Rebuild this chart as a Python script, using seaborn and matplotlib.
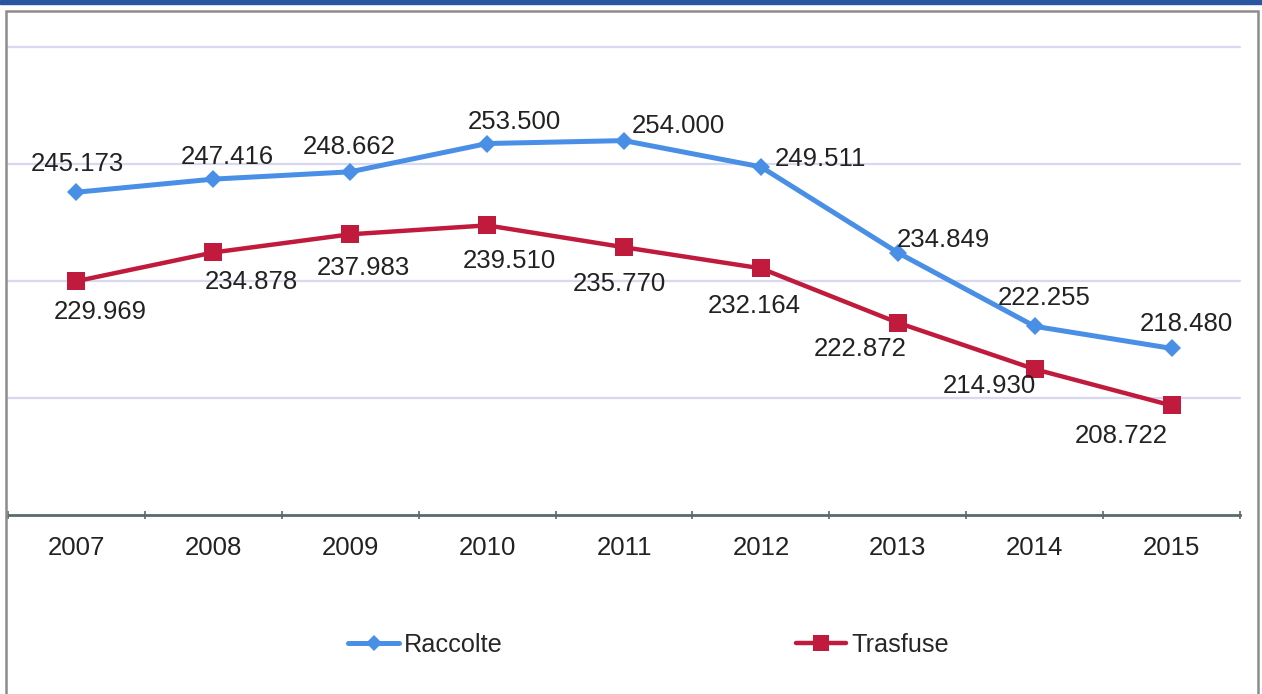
import matplotlib
matplotlib.use("Agg")
import matplotlib.pyplot as plt
from matplotlib.patches import Rectangle
from matplotlib.lines import Line2D
import seaborn as sns
import pandas as pd
import numpy as np

years = ["2007", "2008", "2009", "2010", "2011", "2012", "2013", "2014", "2015"]
raccolte = [245.173, 247.416, 248.662, 253.500, 254.000, 249.511, 234.849, 222.255, 218.480]
trasfuse = [229.969, 234.878, 237.983, 239.510, 235.770, 232.164, 222.872, 214.930, 208.722]
series_names = ["Raccolte", "Trasfuse"]

# label offsets in pixels (dx, dy with dy positive = down)
off_r = [(1, -28), (14, -22), (-1, -25), (27, -22), (54, -15), (60, -8), (46, -13), (10, -28), (15, -24)]
off_t = [(24, 31), (38, 30), (13, 34), (22, 36), (-5, 37), (-7, 38), (-38, 26), (-45, 17), (-50, 31)]

BLUE = "#4a8fe6"
RED = "#c01a3c"
FS = 18.5

sns.set_theme(style="white")
plt.rcParams["font.family"] = ["Liberation Sans", "DejaVu Sans"]

fig = plt.figure(figsize=(12.62, 6.94), dpi=100)
ax = fig.add_axes([8/1262, (694-515)/694, (1240-8)/1262, (515-47)/694])

idx = np.arange(len(years))
df = pd.DataFrame({
    "x": np.concatenate([idx, idx]),
    "v": raccolte + trasfuse,
    "s": [series_names[0]] * len(years) + [series_names[1]] * len(years),
})

sns.lineplot(data=df[df.s == "Raccolte"], x="x", y="v", ax=ax, color=BLUE, lw=3.6,
             marker="D", markersize=9.5, markeredgewidth=0, legend=False, zorder=3)
sns.lineplot(data=df[df.s == "Trasfuse"], x="x", y="v", ax=ax, color=RED, lw=3.2,
             marker="s", markersize=13, markeredgewidth=0, legend=False, zorder=3)

for i, v in enumerate(raccolte):
    ax.annotate(f"{v:.3f}", (i, v), xytext=(off_r[i][0], -off_r[i][1]),
                textcoords="offset pixels", ha="center", va="center",
                fontsize=FS, color="#222222", zorder=4)
for i, v in enumerate(trasfuse):
    ax.annotate(f"{v:.3f}", (i, v), xytext=(off_t[i][0], -off_t[i][1]),
                textcoords="offset pixels", ha="center", va="center",
                fontsize=FS, color="#222222", zorder=4)

ax.set_xlim(-0.5, len(years) - 0.5)
ax.set_ylim(190, 270)
ax.set_yticks([210, 230, 250, 270])
ax.set_yticklabels([])
ax.tick_params(axis="y", length=0)
ax.yaxis.grid(True, color="#d8d8f0", lw=1.6)
for gl in ax.get_ygridlines():
    gl.set_clip_on(False)
ax.set_axisbelow(True)

ax.set_xticks(idx)
ax.set_xticklabels(years, fontsize=FS, color="#222222")
ax.set_xticks(np.arange(-0.5, len(years)), minor=True)
ax.tick_params(axis="x", which="major", length=0, pad=15, bottom=True)
ax.tick_params(axis="x", which="minor", length=6, width=1.2, color="#5a6a6a",
               direction="inout", bottom=True)
ax.set_xlabel("")
ax.set_ylabel("")

for s in ["top", "right", "left"]:
    ax.spines[s].set_visible(False)
ax.spines["bottom"].set_color("#5a6a6a")
ax.spines["bottom"].set_linewidth(2)

handles = [
    Line2D([], [], color=BLUE, lw=3.6, marker="D", markersize=8, markeredgewidth=0),
    Line2D([], [], color=RED, lw=3.2, marker="s", markersize=11, markeredgewidth=0),
]
fig.legend(handles, series_names, loc="center", bbox_to_anchor=(0.514, 0.071), ncol=2,
           frameon=False, fontsize=18.2, handlelength=2.0, handletextpad=0.2,
           columnspacing=11.6)

# frame decorations
fig.patches.append(Rectangle((0, 1 - 4/694), 1, 4/694, transform=fig.transFigure,
                             color="#2a56a0", zorder=0))
fig.patches.append(Rectangle((6/1262, -0.01), (1258-6)/1262, (694-11)/694 + 0.01,
                             transform=fig.transFigure, fill=False,
                             edgecolor="#8c8c8c", lw=1.8, zorder=0))

fig.savefig("out.png", dpi=100)
